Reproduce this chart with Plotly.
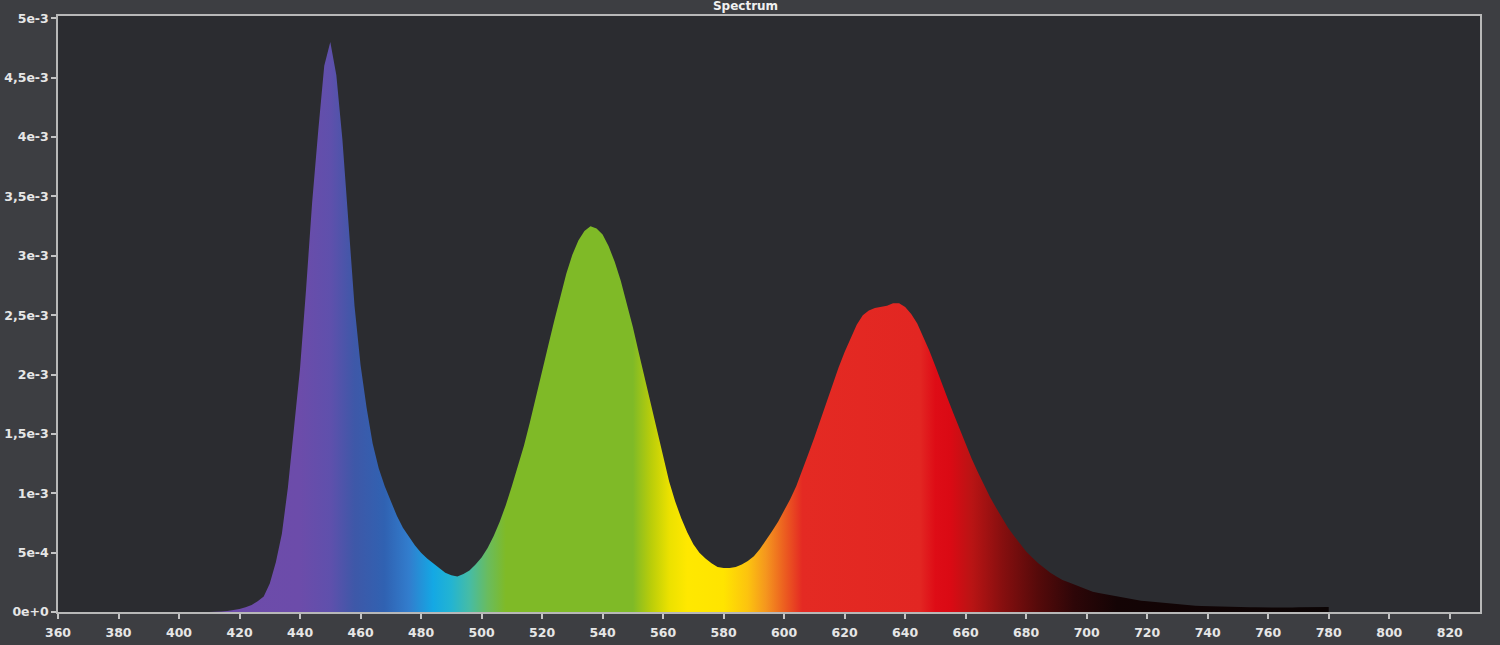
import plotly.graph_objects as go

# Wavelength samples (nm) and spectral values (units of 1e-3)
wavelengths = list(range(410, 782, 2))
values_e3 = [
    0.0, 0.0, 0.004, 0.008, 0.015, 0.025, 0.04, 0.06, 0.09, 0.13,          # 410-428
    0.24, 0.42, 0.66, 1.05, 1.55, 2.05, 2.72, 3.45, 4.05, 4.60,            # 430-448
    4.80, 4.52, 3.98, 3.25, 2.58, 2.08, 1.72, 1.42, 1.21, 1.06,            # 450-468
    0.93, 0.81, 0.71, 0.63, 0.56, 0.50, 0.45, 0.41, 0.37, 0.33,            # 470-488
    0.31, 0.30, 0.32, 0.35, 0.40, 0.46, 0.54, 0.64, 0.76, 0.90,            # 490-508
    1.06, 1.22, 1.40, 1.60, 1.82, 2.02, 2.24, 2.45, 2.66, 2.85,            # 510-528
    3.01, 3.13, 3.21, 3.25, 3.23, 3.18, 3.08, 2.95, 2.79, 2.60,            # 530-548
    2.40, 2.18, 1.96, 1.74, 1.52, 1.30, 1.10, 0.93, 0.79, 0.67,            # 550-568
    0.57, 0.50, 0.45, 0.41, 0.38, 0.37, 0.37, 0.38, 0.40, 0.43,            # 570-588
    0.47, 0.53, 0.60, 0.68, 0.76, 0.85, 0.95, 1.06, 1.19, 1.33,            # 590-608
    1.47, 1.62, 1.77, 1.92, 2.06, 2.19, 2.31, 2.42, 2.50, 2.54,            # 610-628
    2.56, 2.57, 2.58, 2.60, 2.60, 2.57, 2.51, 2.43, 2.32, 2.20,            # 630-648
    2.07, 1.93, 1.80, 1.67, 1.54, 1.41, 1.29, 1.18, 1.07, 0.97,            # 650-668
    0.88, 0.79, 0.71, 0.64, 0.57, 0.51, 0.46, 0.41, 0.37, 0.33,            # 670-688
    0.30, 0.27, 0.25, 0.23, 0.21, 0.19, 0.17, 0.16, 0.15, 0.14,            # 690-708
    0.13, 0.12, 0.11, 0.10, 0.095, 0.09, 0.085, 0.078, 0.072, 0.066,       # 710-728
    0.062, 0.058, 0.055, 0.052, 0.05, 0.048, 0.046, 0.045, 0.044, 0.043,   # 730-748
    0.042, 0.041, 0.040, 0.039, 0.038, 0.037, 0.037, 0.037, 0.038, 0.038,  # 750-768
    0.039, 0.040, 0.041, 0.042, 0.042, 0.042,                              # 770-780
]

x_ticks = list(range(360, 821, 20))
y_tick_vals = [i * 0.5e-3 for i in range(11)]
y_tick_text = ["0e+0", "5e-4", "1e-3", "1,5e-3", "2e-3", "2,5e-3",
               "3e-3", "3,5e-3", "4e-3", "4,5e-3", "5e-3"]
title_text = "Spectrum"

# colour of the fill by wavelength (gradient stops)
grad_lo, grad_hi = 400, 800
color_stops = [
    (400, "rgb(110,75,170)"), (440, "rgb(108,76,170)"), (450, "rgb(95,80,172)"),
    (458, "rgb(62,88,168)"), (468, "rgb(48,98,178)"), (476, "rgb(50,125,205)"),
    (484, "rgb(20,168,228)"), (490, "rgb(35,180,210)"), (496, "rgb(70,188,165)"),
    (502, "rgb(105,188,95)"), (508, "rgb(127,186,39)"), (550, "rgb(127,186,39)"),
    (556, "rgb(185,205,10)"), (562, "rgb(235,225,0)"), (568, "rgb(255,232,0)"),
    (580, "rgb(255,228,0)"), (588, "rgb(252,195,15)"), (594, "rgb(245,150,30)"),
    (600, "rgb(236,95,32)"), (606, "rgb(228,42,35)"), (645, "rgb(226,38,34)"),
    (650, "rgb(222,12,22)"), (655, "rgb(218,10,20)"), (662, "rgb(185,20,20)"),
    (672, "rgb(135,15,15)"), (684, "rgb(85,10,10)"), (696, "rgb(45,6,8)"),
    (710, "rgb(20,4,5)"), (800, "rgb(8,4,4)"),
]
colorscale = [[(w - grad_lo) / (grad_hi - grad_lo), c] for w, c in color_stops]

y_vals = [v * 1e-3 for v in values_e3]

fig = go.Figure()
fig.add_trace(go.Scatter(
    x=wavelengths, y=y_vals, mode="lines", fill="tozeroy",
    line=dict(width=0, color="rgba(0,0,0,0)"),
    fillgradient=dict(type="horizontal", colorscale=colorscale,
                      start=grad_lo, stop=grad_hi),
    hoverinfo="x+y", showlegend=False,
))

tick_font = dict(family="DejaVu Sans", size=12.5, color="#e6e6e6", weight="bold")
fig.update_layout(
    width=1500, height=645, autosize=False,
    margin=dict(l=58, r=20, t=16, b=33),
    paper_bgcolor="rgb(61,62,66)",
    plot_bgcolor="rgb(43,44,48)",
    title=dict(text=title_text, x=0.497, xanchor="center", y=0.998, yanchor="top",
               font=dict(family="DejaVu Sans", size=12, color="#f0f0f0", weight="bold")),
    xaxis=dict(range=[360, 830], tickvals=x_ticks, ticks="outside", ticklen=5,
               tickcolor="#c4c4c4", tickwidth=1.5, showline=True, linecolor="#b8b8b8",
               linewidth=1.5, mirror=True, showgrid=False, zeroline=False,
               tickfont=tick_font, automargin=False, ticklabelstandoff=3),
    yaxis=dict(range=[0, 5.02e-3], tickvals=y_tick_vals, ticktext=y_tick_text,
               ticks="outside", ticklen=5, tickcolor="#c4c4c4", tickwidth=1.5,
               showline=True, linecolor="#b8b8b8", linewidth=1.5, mirror=True,
               showgrid=False, zeroline=False, tickfont=tick_font, automargin=False),
)

fig.write_html("out.html")
